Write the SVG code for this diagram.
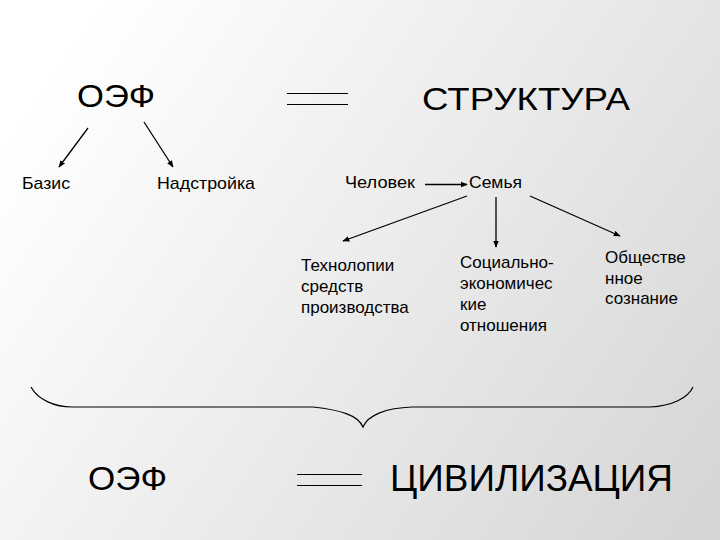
<svg xmlns="http://www.w3.org/2000/svg" width="720" height="540" viewBox="0 0 720 540">
<defs>
<linearGradient id="bg" gradientUnits="userSpaceOnUse" x1="0" y1="0" x2="720" y2="492">
<stop offset="0" stop-color="#ffffff"/>
<stop offset="0.1" stop-color="#ffffff"/>
<stop offset="1" stop-color="#d6d6d6"/>
</linearGradient>
<marker id="ah" viewBox="0 0 10 10" refX="9" refY="5" markerWidth="7" markerHeight="7" orient="auto" markerUnits="userSpaceOnUse">
<path d="M0,1 L10,5 L0,9 Z" fill="#000"/>
</marker>
<style>
text{font-family:"Liberation Sans",Arial,sans-serif;fill:#000}
.big{font-size:32px}
.sm{font-size:17px}
.c{stroke:#000;stroke-width:1.3;fill:none;marker-end:url(#ah)}
.eq{stroke:#000;stroke-width:1.2}
</style>
</defs>
<rect width="720" height="540" fill="url(#bg)"/>
<g id="oef-top"><text class="big" x="77" y="107" textLength="78" lengthAdjust="spacingAndGlyphs">ОЭФ</text></g>
<g id="eq-top"><line class="eq" x1="287" y1="93.5" x2="348" y2="93.5"/><line class="eq" x1="287" y1="104.5" x2="348" y2="104.5"/></g>
<g id="struktura"><text class="big" x="422" y="110" textLength="208" lengthAdjust="spacingAndGlyphs">СТРУКТУРА</text></g>
<g id="bazis"><text class="sm" x="22" y="189" textLength="48" lengthAdjust="spacingAndGlyphs">Базис</text></g>
<g id="nadstroyka"><text class="sm" x="157" y="189" textLength="98" lengthAdjust="spacingAndGlyphs">Надстройка</text></g>
<g id="chelovek"><text class="sm" x="345" y="188" textLength="70" lengthAdjust="spacingAndGlyphs">Человек</text></g>
<g id="semya"><text class="sm" x="469" y="188" textLength="53" lengthAdjust="spacingAndGlyphs">Семья</text></g>
<g id="tech"><text class="sm" x="301" y="271">Технолопии</text><text class="sm" x="301" y="292">средств</text><text class="sm" x="301" y="313">производства</text></g>
<g id="social"><text class="sm" x="460" y="268">Социально-</text><text class="sm" x="460" y="289">экономичес</text><text class="sm" x="460" y="310">кие</text><text class="sm" x="460" y="331">отношения</text></g>
<g id="consc"><text class="sm" x="605" y="263">Обществе</text><text class="sm" x="605" y="283.5">нное</text><text class="sm" x="605" y="304">сознание</text></g>
<g id="brace"><path d="M31,387 C38,400 55,407 72,407 L313,407 C340,410 358,415 363,427 C368,415 386,408 412,407 L650,407 C672,406 688,398 693,387" stroke="#000" stroke-width="1.2" fill="none"/></g>
<g id="oef-bottom"><text class="big" x="88" y="490" font-size="34" style="font-size:34px" textLength="79" lengthAdjust="spacingAndGlyphs">ОЭФ</text></g>
<g id="eq-bottom"><line class="eq" x1="297" y1="474.5" x2="362" y2="474.5"/><line class="eq" x1="297" y1="485.5" x2="362" y2="485.5"/></g>
<g id="civ"><text class="big" x="390" y="491" style="font-size:36px" textLength="283" lengthAdjust="spacingAndGlyphs">ЦИВИЛИЗАЦИЯ</text></g>
<g id="connectors">
<line class="c" x1="88" y1="128" x2="59" y2="167"/>
<line class="c" x1="144" y1="122" x2="173" y2="167"/>
<line class="c" x1="425" y1="184.5" x2="467" y2="184.5"/>
<line class="c" x1="467" y1="196" x2="343" y2="241"/>
<line class="c" x1="496" y1="197" x2="496" y2="247"/>
<line class="c" x1="530" y1="196" x2="620" y2="236"/>
</g>
</svg>
